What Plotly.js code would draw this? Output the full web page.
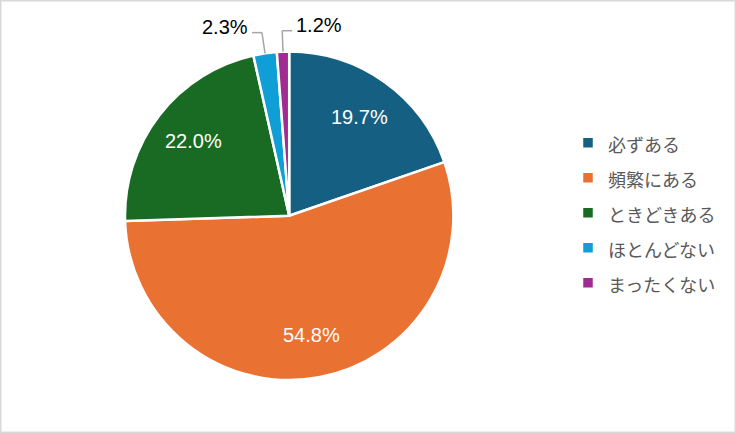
<!DOCTYPE html>
<html>
<head>
<meta charset="utf-8">
<script src="https://cdn.plot.ly/plotly-3.0.1.min.js"></script>
<style>
html,body{margin:0;padding:0;background:#fff;}
#chart{width:736px;height:433px;}
</style>
</head>
<body>
<div id="chart"></div>
<script>
const categories = ['必ずある', '頻繁にある', 'ときどきある', 'ほとんどない', 'まったくない'];
const values = [19.7, 54.8, 22.0, 2.3, 1.2];
const colors = ['#156082', '#E97132', '#196B24', '#0F9ED5', '#A02B93'];
const labelPlacement = ['inside', 'inside', 'inside', 'outside', 'outside'];
const outsideSide = [0, 0, 0, -1, 1];

const W = 736, H = 433;
const cx = 289.2, cy = 215.8, R = 164.2;
const labelText = values.map(v => v.toFixed(1) + '%');

const total = values.reduce((a, b) => a + b, 0);
const shapes = [];
const annotations = [];
let cum = 0;
const px = x => x / W;
const py = y => 1 - y / H;
const labelFont = {family: 'Liberation Sans, Arial, sans-serif', size: 20};
values.forEach((v, i) => {
  const mid = (cum + v / 2) / total;
  cum += v;
  const th = 2 * Math.PI * mid;
  const s = Math.sin(th), c = Math.cos(th);
  if (labelPlacement[i] === 'inside') {
    const rr = R * 0.74;
    annotations.push({
      xref: 'paper', yref: 'paper', x: px(cx + rr * s), y: py(cy - rr * c),
      xanchor: 'center', yanchor: 'middle', text: labelText[i], showarrow: false,
      font: Object.assign({color: '#FFFFFF'}, labelFont)
    });
    return;
  }
  const L = 21;
  const x0 = cx + R * s, y0 = cy - R * c;
  const x1 = cx + (R + L) * s, y1 = cy - (R + L) * c;
  const x2 = x1 + outsideSide[i] * 10;
  const lineStyle = {color: '#A6A6A6', width: 1.5};
  shapes.push({type: 'line', xref: 'paper', yref: 'paper', x0: px(x0), y0: py(y0), x1: px(x1), y1: py(y1), line: lineStyle});
  shapes.push({type: 'line', xref: 'paper', yref: 'paper', x0: px(x1), y0: py(y1), x1: px(x2), y1: py(y1), line: lineStyle});
  annotations.push({
    xref: 'paper', yref: 'paper', x: px(x2 + outsideSide[i] * 2), y: py(y1 - 6),
    xanchor: outsideSide[i] < 0 ? 'right' : 'left', yanchor: 'middle',
    text: labelText[i], showarrow: false,
    font: Object.assign({color: '#000000'}, labelFont)
  });
});

shapes.push({type: 'rect', xref: 'paper', yref: 'paper', x0: 0, y0: 0, x1: 1, y1: 1,
  line: {color: '#D9D9D9', width: 3}, layer: 'above'});

const trace = {
  type: 'pie',
  labels: categories.map(c => '<span style="font-size:18px">' + c + '</span>'),
  values: values,
  textinfo: 'none',
  marker: {colors: colors, line: {color: '#FFFFFF', width: 2.5}},
  sort: false,
  direction: 'clockwise',
  rotation: 0,
  hoverinfo: 'none',
  domain: {x: [px(cx - R), px(cx + R)], y: [py(cy + R), py(cy - R)]}
};

const layout = {
  width: W, height: H,
  margin: {l: 0, r: 0, t: 0, b: 0},
  paper_bgcolor: '#FFFFFF',
  showlegend: true,
  legend: {
    x: 568 / W, xanchor: 'left', y: py(cy - 3), yanchor: 'middle',
    font: {family: 'Noto Sans CJK JP, sans-serif', size: 24.6, color: '#595959'},
    bgcolor: 'rgba(0,0,0,0)'
  },
  shapes: shapes,
  annotations: annotations
};

Plotly.newPlot('chart', [trace], layout, {displayModeBar: false, staticPlot: true});
</script>
</body>
</html>
